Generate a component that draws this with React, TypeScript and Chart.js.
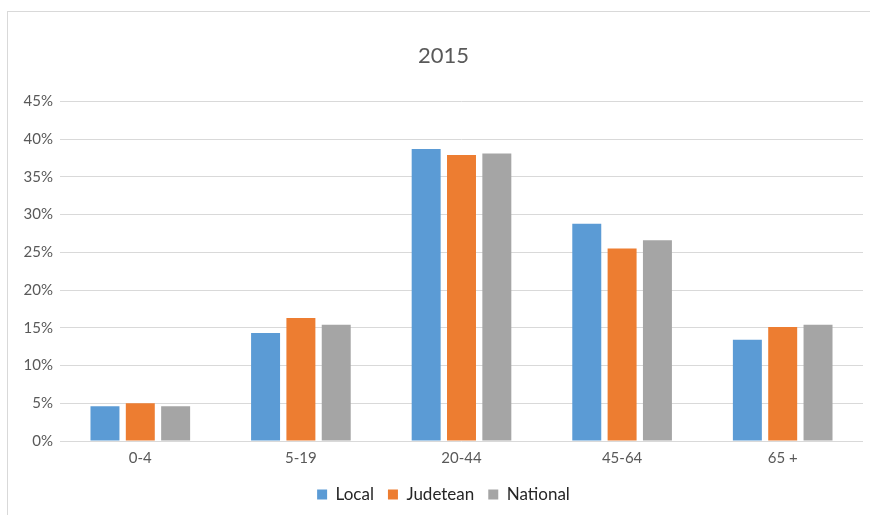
import React, { useEffect, useRef } from "react";
import { Chart, registerables } from "chart.js";

Chart.register(...registerables);

const categories = ["0-4", "5-19", "20-44", "45-64", "65 +"];
const localValues = [4.6, 14.3, 38.7, 28.8, 13.4];
const judeteanValues = [5.0, 16.3, 37.9, 25.5, 15.1];
const nationalValues = [4.6, 15.4, 38.1, 26.6, 15.4];
const seriesNames = ["Local", "Judetean", "National"];
const seriesColors = ["#5B9BD5", "#ED7D31", "#A5A5A5"];
const titleText = "2015";

const FONT = "Lato, 'Open Sans', sans-serif";

export default function App() {
  const ref = useRef<HTMLCanvasElement | null>(null);
  useEffect(() => {
    if (!ref.current) return;
    const chart = new Chart(ref.current, {
      type: "bar",
      data: {
        labels: categories,
        datasets: [localValues, judeteanValues, nationalValues].map((d, i) => ({
          label: seriesNames[i],
          data: d,
          backgroundColor: seriesColors[i],
          borderWidth: 0,
          categoryPercentage: 0.66,
          barPercentage: 0.82,
          yAxisID: "y",
        })),
      },
      options: {
        animation: false,
        responsive: false,
        maintainAspectRatio: false,
        layout: { padding: { left: 0, right: 0, top: 0, bottom: 2 } },
        plugins: {
          tooltip: { enabled: false },
          title: {
            display: true,
            text: titleText,
            color: "#595959",
            font: { family: FONT, size: 22, weight: "normal" },
            padding: { top: 31, bottom: 32 },
          },
          legend: {
            position: "bottom",
            labels: {
              color: "#262626",
              font: { family: FONT, size: 17 },
              boxWidth: 10,
              boxHeight: 10,
              padding: 14,
            },
          },
        },
        scales: {
          x: {
            grid: { display: false, drawTicks: false },
            border: { display: false },
            afterFit: (s: any) => {
              s.height = 31;
            },
            ticks: {
              color: "#595959",
              font: { family: FONT, size: 15 },
              padding: 8,
            },
          },
          y: {
            min: 0,
            max: 45,
            afterFit: (s: any) => {
              s.width = 52;
            },
            grid: { color: "#D9D9D9", lineWidth: 1, drawTicks: false },
            border: { display: false },
            ticks: {
              stepSize: 5,
              color: "#595959",
              font: { family: FONT, size: 15 },
              padding: 7,
              callback: (v: any) => v + "%",
            },
          },
          yRight: {
            position: "right",
            display: true,
            grid: { display: false, drawTicks: false },
            border: { display: false },
            ticks: { display: false },
            afterFit: (s: any) => {
              s.width = 16;
            },
          },
        },
      },
    });
    return () => chart.destroy();
  }, []);
  return (
    <div
      style={{
        position: "absolute",
        left: 7,
        top: 11,
        width: 880,
        height: 504,
        borderTop: "1px solid #D9D9D9",
        borderLeft: "1px solid #D9D9D9",
        background: "#fff",
      }}
    >
      <canvas ref={ref} width={871} height={503} style={{ display: "block" }} />
    </div>
  );
}
